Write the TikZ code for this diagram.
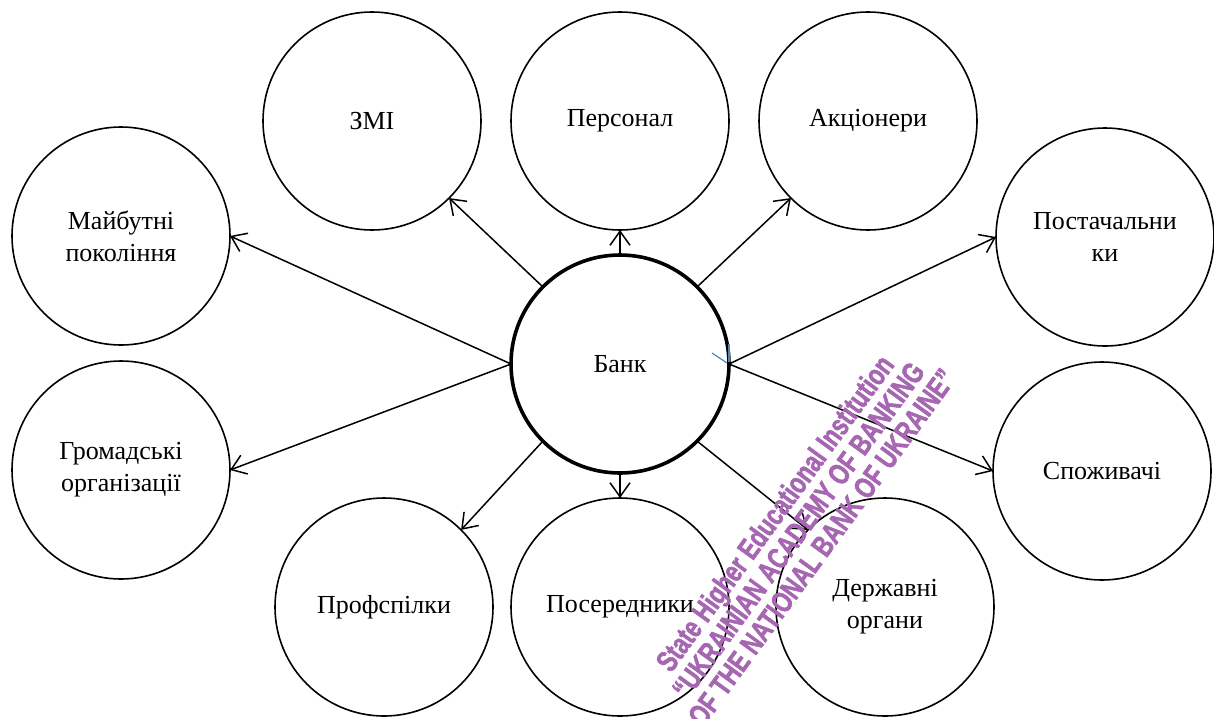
\documentclass[tikz,border=0pt]{standalone}
\usepackage{fontspec}
\setmainfont{Liberation Serif}
\newfontfamily\wmfont[FakeStretch=0.75,FakeBold=1.6]{Liberation Sans Bold}
\usetikzlibrary{arrows.meta}
\definecolor{wmpurple}{RGB}{166,102,178}
\definecolor{markblue}{RGB}{79,129,189}
\begin{document}
\begin{tikzpicture}[x=1pt,y=-1pt,
  party/.style={circle,draw,line width=1.6pt,minimum size=218pt,inner sep=0pt,
    outer sep=0pt,align=center,font=\fontsize{26}{32}\selectfont},
  bankc/.style={party,line width=3.6pt},
  link/.style={line width=1.5pt,-{Straight Barb[length=14pt,width=20pt]}},
]
\useasboundingbox[fill=white] (0,0) rectangle (1214,718);

% stakeholders around the bank
\node[bankc] (bank)  at (620,364)  {Банк};
\node[party] (zmi)   at (372,121)  {ЗМІ};
\node[party] (pers)  at (620,121)  {Персонал};
\node[party] (akc)   at (868,121)  {Акціонери};
\node[party] (maib)  at (121,236)  {Майбутні\\покоління};
\node[party] (post)  at (1105,237) {Постачальни\\ки};
\node[party] (hrom)  at (121,470)  {Громадські\\організації};
\node[party] (spoz)  at (1102,471) {Споживачі};
\node[party] (prof)  at (384,607)  {Профспілки};
\node[party] (pos)   at (620,607)  {Посередники};
\node[party] (derzh) at (885,607)  {Державні\\органи};

% relations
\draw[link] (bank.135)  -- (zmi.-45);
\draw[link] (bank.90)   -- (pers.-90);
\draw[link] (bank.45)   -- (akc.-135);
\draw[link] (bank.180)  -- (maib.0);
\draw[link] (bank.180)  -- (hrom.0);
\draw[link] (bank.0)    -- (post.180);
\draw[link] (bank.0)    -- (spoz.180);
\draw[link] (bank.-135) -- (prof.45);
\draw[link] (bank.-90)  -- (pos.90);
\draw[link] (bank.-45)  -- (derzh.135);

% small blue mark at the bank's right edge
\draw[markblue,line width=1.2pt] (712,353) -- (727,363);
\draw[markblue,line width=1.2pt] (729,344) -- (729,362);

% stamp
\node[rotate=54,text=wmpurple,align=center,inner sep=0pt,
  font=\wmfont\fontsize{30}{29}\selectfont] (stamp) at (798,530)
  {State Higher Educational Institution\\“UKRAINIAN ACADEMY OF BANKING\\OF THE NATIONAL BANK OF UKRAINE”};
\end{tikzpicture}
\end{document}
